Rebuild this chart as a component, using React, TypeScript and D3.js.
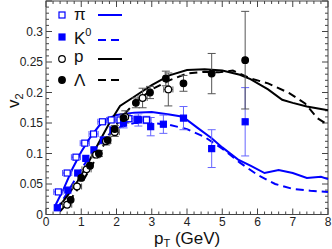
import React, { useEffect, useRef } from 'react';
import * as d3 from 'd3';

// measured points
const pionPt = [0.35, 0.6, 0.85, 1.1, 1.35, 1.6, 1.85, 2.1, 2.35, 2.6, 2.85];
const pionV2 = [0.037, 0.068, 0.094, 0.117, 0.132, 0.152, 0.155, 0.155, 0.157, 0.156, 0.155];
const pionErr = [0.002, 0.002, 0.003, 0.003, 0.003, 0.004, 0.004, 0.004, 0.005, 0.005, 0.006];

const k0Pt = [0.32, 0.62, 0.9, 1.13, 1.36, 1.63, 1.9, 2.2, 2.62, 2.97, 3.33, 3.9, 4.7, 5.65];
const k0V2 = [0.011, 0.04, 0.068, 0.092, 0.106, 0.122, 0.138, 0.15, 0.155, 0.144, 0.148, 0.158, 0.108, 0.152];
const k0Err = [0.002, 0.003, 0.003, 0.004, 0.004, 0.005, 0.006, 0.008, 0.01, 0.015, 0.015, 0.019, 0.031, 0.056];

const pPt = [0.6, 0.88, 1.15, 1.42, 1.7, 1.95, 2.25, 2.74, 3.47];
const pV2 = [0.016, 0.046, 0.074, 0.098, 0.12, 0.135, 0.16, 0.191, 0.205];
const pErr = [0.003, 0.004, 0.004, 0.005, 0.006, 0.007, 0.01, 0.016, 0.027];

const lamPt = [0.7, 1.0, 1.25, 1.5, 1.75, 1.95, 2.2, 2.55, 2.95, 3.4, 3.9, 4.7, 5.65];
const lamV2 = [0.024, 0.06, 0.08, 0.1, 0.122, 0.14, 0.158, 0.183, 0.2, 0.223, 0.215, 0.231, 0.253];
const lamErr = [0.003, 0.004, 0.004, 0.005, 0.005, 0.006, 0.007, 0.008, 0.01, 0.012, 0.013, 0.033, 0.08];

// model curves
const pionCurvePt = [0.25, 0.5, 0.75, 1.0, 1.25, 1.5, 1.75, 2.0, 2.5, 3.0, 3.5, 3.8, 4.0, 4.3, 4.7, 5.0, 5.45, 5.8, 6.2, 6.6, 7.0, 7.4, 7.8, 8.0];
const pionCurveV2 = [0.013, 0.042, 0.075, 0.103, 0.126, 0.145, 0.157, 0.163, 0.167, 0.168, 0.164, 0.161, 0.155, 0.142, 0.125, 0.11, 0.09, 0.08, 0.068, 0.073, 0.068, 0.06, 0.062, 0.058];

const k0CurvePt = [0.3, 0.6, 0.9, 1.2, 1.5, 1.8, 2.1, 2.5, 3.0, 3.5, 4.0, 4.5, 5.0, 5.5, 6.0, 6.5, 7.0, 7.5, 8.0];
const k0CurveV2 = [0.008, 0.035, 0.065, 0.092, 0.115, 0.132, 0.143, 0.15, 0.15, 0.147, 0.14, 0.127, 0.108, 0.085, 0.065, 0.05, 0.042, 0.039, 0.037];

const pCurvePt = [0.3, 0.6, 0.9, 1.2, 1.5, 1.8, 2.1, 2.5, 3.0, 3.5, 4.0, 4.5, 5.0, 5.5, 5.8, 6.3, 6.7, 7.0, 7.4, 8.0];
const pCurveV2 = [0.008, 0.03, 0.055, 0.085, 0.118, 0.15, 0.178, 0.193, 0.212, 0.228, 0.237, 0.238, 0.236, 0.229, 0.222, 0.205, 0.188, 0.183, 0.177, 0.171];

const lamCurvePt = [0.4, 0.7, 1.0, 1.3, 1.6, 1.9, 2.2, 2.5, 3.0, 3.5, 4.0, 4.5, 4.9, 5.3, 5.8, 6.3, 6.9, 7.35, 7.7, 8.0];
const lamCurveV2 = [0.005, 0.025, 0.05, 0.08, 0.11, 0.14, 0.163, 0.182, 0.205, 0.22, 0.231, 0.234, 0.233, 0.236, 0.223, 0.215, 0.199, 0.182, 0.158, 0.147];

const xTicks = [0, 1, 2, 3, 4, 5, 6, 7, 8];
const yTicks = [0, 0.05, 0.1, 0.15, 0.2, 0.25, 0.3];

const W = 332;
const H = 249;
const BLUE = '#0000ff';

const App: React.FC = () => {
  const svgRef = useRef<SVGSVGElement>(null);

  useEffect(() => {
    if (!svgRef.current) return;
    const svg = d3.select(svgRef.current);
    svg.selectAll('*').remove();

    const left = 46, right = 328, top = 1, bottom = 214.5;
    const x = d3.scaleLinear().domain([0, 8]).range([left, right]);
    const y = d3.scaleLinear().domain([0, 0.35]).range([bottom, top]);

    const font = 'Liberation Sans, Arial, sans-serif';

    // frame
    svg.append('rect')
      .attr('x', left).attr('y', top)
      .attr('width', right - left).attr('height', bottom - top)
      .attr('fill', 'none').attr('stroke', '#444').attr('stroke-width', 1);

    // ticks on all four sides, pointing inward
    const ax = svg.append('g').attr('stroke', '#444').attr('stroke-width', 1);
    d3.range(0, 8.001, 0.2).forEach(v => {
      const major = Math.abs(v - Math.round(v)) < 1e-6;
      const len = major ? 6 : 3;
      ax.append('line').attr('x1', x(v)).attr('x2', x(v)).attr('y1', bottom).attr('y2', bottom - len);
      ax.append('line').attr('x1', x(v)).attr('x2', x(v)).attr('y1', top).attr('y2', top + len);
    });
    d3.range(0, 0.3501, 0.01).forEach(v => {
      const major = Math.abs(v * 20 - Math.round(v * 20)) < 1e-6;
      const len = major ? 6 : 3;
      ax.append('line').attr('y1', y(v)).attr('y2', y(v)).attr('x1', left).attr('x2', left + len);
      ax.append('line').attr('y1', y(v)).attr('y2', y(v)).attr('x1', right).attr('x2', right - len);
    });

    // tick labels
    svg.append('g').selectAll('text').data(xTicks).join('text')
      .attr('x', d => x(d)).attr('y', bottom + 11.5)
      .attr('text-anchor', 'middle')
      .attr('font-family', font).attr('font-size', 12).attr('fill', '#222')
      .text(d => String(d));
    svg.append('g').selectAll('text').data(yTicks).join('text')
      .attr('x', left - 3).attr('y', d => y(d) + 4)
      .attr('text-anchor', 'end')
      .attr('font-family', font).attr('font-size', 12).attr('fill', '#222')
      .text(d => (d === 0 ? '0' : String(d)));

    // axis titles
    const xt = svg.append('text')
      .attr('x', 154).attr('y', 244)
      .attr('font-family', font).attr('font-size', 17).attr('fill', '#111');
    xt.append('tspan').text('p');
    xt.append('tspan').attr('font-size', 11).attr('dy', 3).text('T');
    xt.append('tspan').attr('dy', -3).text(' (GeV)');

    const yt = svg.append('text')
      .attr('transform', `translate(19,108) rotate(-90)`)
      .attr('font-family', font).attr('font-size', 17).attr('fill', '#111');
    yt.append('tspan').text('v');
    yt.append('tspan').attr('font-size', 11).attr('dy', 4).text('2');

    const plot = svg.append('g');

    // curves
    const line = d3.line<[number, number]>().x(d => x(d[0])).y(d => y(d[1]));
    const curve = (pts: number[], vals: number[], color: string, dash?: string) => {
      plot.append('path')
        .datum(pts.map((p, i) => [p, vals[i]] as [number, number]))
        .attr('fill', 'none').attr('stroke', color).attr('stroke-width', 2)
        .attr('stroke-dasharray', dash || null)
        .attr('d', line);
    };
    curve(pionCurvePt, pionCurveV2, BLUE);
    curve(k0CurvePt, k0CurveV2, BLUE, '8,5');
    curve(pCurvePt, pCurveV2, '#000');
    curve(lamCurvePt, lamCurveV2, '#000', '8,5');

    // error bars
    const errs = (pts: number[], vals: number[], e: number[], color: string, xe: number) => {
      const g = plot.append('g').attr('stroke', color).attr('stroke-width', 1);
      pts.forEach((p, i) => {
        const y1 = y(vals[i] + e[i]), y2 = y(vals[i] - e[i]);
        g.append('line').attr('x1', x(p)).attr('x2', x(p)).attr('y1', y1).attr('y2', y2);
        if (y2 - y1 > 6) {
          g.append('line').attr('x1', x(p) - 4).attr('x2', x(p) + 4).attr('y1', y1).attr('y2', y1);
          g.append('line').attr('x1', x(p) - 4).attr('x2', x(p) + 4).attr('y1', y2).attr('y2', y2);
        }
        if (xe > 0) {
          const xl = x(p - xe), xr = x(p + xe);
          g.append('line').attr('x1', xl).attr('x2', xr).attr('y1', y(vals[i])).attr('y2', y(vals[i]));
          g.append('line').attr('x1', xl).attr('x2', xl).attr('y1', y(vals[i]) - 3).attr('y2', y(vals[i]) + 3);
          g.append('line').attr('x1', xr).attr('x2', xr).attr('y1', y(vals[i]) - 3).attr('y2', y(vals[i]) + 3);
        }
      });
    };
    errs(pionPt, pionV2, pionErr, '#5555ff', 0.13);
    errs(k0Pt, k0V2, k0Err, '#6666ff', 0);
    errs(pPt, pV2, pErr, '#555', 0.13);
    errs(lamPt, lamV2, lamErr, '#555', 0);

    // markers
    const squares = (pts: number[], vals: number[], filled: boolean) => {
      plot.append('g').selectAll('rect').data(pts).join('rect')
        .attr('x', (d) => x(d) - 3).attr('y', (_, i) => y(vals[i]) - 3)
        .attr('width', 6).attr('height', 6)
        .attr('fill', filled ? BLUE : '#fff').attr('stroke', BLUE).attr('stroke-width', 1.2);
    };
    const circles = (pts: number[], vals: number[], filled: boolean) => {
      plot.append('g').selectAll('circle').data(pts).join('circle')
        .attr('cx', d => x(d)).attr('cy', (_, i) => y(vals[i])).attr('r', 3.3)
        .attr('fill', filled ? '#000' : '#fff').attr('stroke', '#000').attr('stroke-width', 1.2);
    };
    squares(pionPt, pionV2, false);
    squares(k0Pt, k0V2, true);
    circles(pPt, pV2, false);
    circles(lamPt, lamV2, true);

    // legend
    const lg = svg.append('g');
    const rows = [
      { y: 15, ly: 15, kind: 'sq', filled: false, color: BLUE, dash: null as string | null },
      { y: 37, ly: 40, kind: 'sq', filled: true, color: BLUE, dash: '8,5' },
      { y: 59, ly: 59, kind: 'ci', filled: false, color: '#000', dash: null },
      { y: 80, ly: 80, kind: 'ci', filled: true, color: '#000', dash: '8,5' },
    ];
    rows.forEach(r => {
      if (r.kind === 'sq') {
        lg.append('rect').attr('x', 59).attr('y', r.y - 3).attr('width', 6).attr('height', 6)
          .attr('fill', r.filled ? BLUE : '#fff').attr('stroke', BLUE).attr('stroke-width', 1.2);
      } else {
        lg.append('circle').attr('cx', 62).attr('cy', r.y).attr('r', 3.3)
          .attr('fill', r.filled ? '#000' : '#fff').attr('stroke', '#000').attr('stroke-width', 1.2);
      }
      lg.append('line').attr('x1', 98).attr('x2', 122).attr('y1', r.ly).attr('y2', r.ly)
        .attr('stroke', r.color).attr('stroke-width', 2).attr('stroke-dasharray', r.dash);
    });
    const lt = (t: string, yy: number) => lg.append('text').attr('x', 74).attr('y', yy)
      .attr('font-family', font).attr('font-size', 17).attr('fill', '#111').text(t);
    lt('π', 20);
    const k = lt('K', 44);
    k.append('tspan').attr('font-size', 11).attr('dy', -8).text('0');
    lt('p', 62);
    lt('Λ', 86);
  }, []);

  return (
    <svg ref={svgRef} width={W} height={H}
      style={{ position: 'absolute', left: 0, top: 0, background: '#fff' }} />
  );
};

export default App;
